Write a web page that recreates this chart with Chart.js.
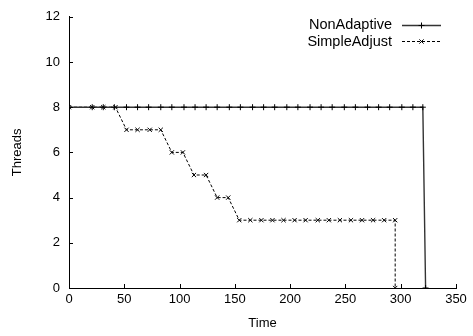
<!DOCTYPE html>
<html><head><meta charset="utf-8">
<script src="https://cdn.jsdelivr.net/npm/chart.js@4"></script>
<style>html,body{margin:0;padding:0;background:#fff}#wrap{width:473px;height:336px}</style>
</head><body><div id="wrap"><canvas id="c" width="473" height="336"></canvas></div>
<script>
const seriesNames = ['NonAdaptive', 'SimpleAdjust'];
const nonAdaptiveTime = [0, 21, 31, 41, 52, 62, 72, 83, 93, 104, 114, 124, 134, 145, 155, 166, 176, 186, 197, 207, 218, 228, 238, 249, 259, 270, 280, 290, 301, 311, 320, 322.5];
const nonAdaptiveThreads = [8, 8, 8, 8, 8, 8, 8, 8, 8, 8, 8, 8, 8, 8, 8, 8, 8, 8, 8, 8, 8, 8, 8, 8, 8, 8, 8, 8, 8, 8, 8, 0];
const simpleAdjustTime = [0, 21, 31, 42, 52, 62, 73, 83, 93, 103, 113, 124, 134, 144, 154, 164, 174, 184, 194, 204, 214, 225, 235, 245, 255, 265, 275, 285, 295, 295];
const simpleAdjustThreads = [8, 8, 8, 8, 7, 7, 7, 7, 6, 6, 5, 5, 4, 4, 3, 3, 3, 3, 3, 3, 3, 3, 3, 3, 3, 3, 3, 3, 3, 0];
const xTickValues = [0, 50, 100, 150, 200, 250, 300, 350];
const yTickValues = [0, 2, 4, 6, 8, 10, 12];
const xTitle = 'Time';
const yTitle = 'Threads';

const FONT = 'Liberation Sans, Arial, Helvetica, sans-serif';
const toPts = (xs, ys) => xs.map((x, i) => ({x: x, y: ys[i]}));

const styles = [
  {borderColor: '#333', borderWidth: 1.4, borderDash: [], pointStyle: 'cross', pointRadius: 3},
  {borderColor: '#000', borderWidth: 1, borderDash: [3, 2], pointStyle: 'crossRot', pointRadius: 3}
];

const tickAndLegend = {
  id: 'tickAndLegend',
  afterDraw(chart) {
    const ctx = chart.ctx;
    const xs = chart.scales.x, ys = chart.scales.y;
    const area = chart.chartArea;
    ctx.save();
    ctx.strokeStyle = '#000';
    ctx.lineWidth = 1;
    ctx.beginPath();
    xTickValues.forEach(v => {
      const px = Math.round(xs.getPixelForValue(v)) + 0.5;
      ctx.moveTo(px, area.bottom);
      ctx.lineTo(px, area.bottom - 4);
    });
    yTickValues.forEach(v => {
      const py = Math.round(ys.getPixelForValue(v)) + 0.5;
      ctx.moveTo(area.left, py);
      ctx.lineTo(area.left + 4, py);
    });
    ctx.stroke();
    // legend
    ctx.font = '14.5px ' + FONT;
    ctx.fillStyle = '#000';
    ctx.textAlign = 'right';
    ctx.textBaseline = 'middle';
    const rows = [24.5, 41];
    seriesNames.forEach((name, i) => {
      const y = rows[i];
      ctx.fillText(name, 392, y + 0.5);
      const st = styles[i];
      ctx.strokeStyle = st.borderColor;
      ctx.lineWidth = st.borderWidth;
      ctx.setLineDash(st.borderDash);
      ctx.beginPath();
      ctx.moveTo(402, Math.round(y) + 0.5);
      ctx.lineTo(441, Math.round(y) + 0.5);
      ctx.stroke();
      ctx.setLineDash([]);
      ctx.strokeStyle = '#000';
      ctx.lineWidth = 1;
      const cx = 421.5, cy = Math.round(y) + 0.5, r = 3;
      ctx.beginPath();
      if (st.pointStyle === 'cross') {
        ctx.moveTo(cx - r, cy); ctx.lineTo(cx + r, cy);
        ctx.moveTo(cx, cy - r); ctx.lineTo(cx, cy + r);
      } else {
        const d = r * 0.7071;
        ctx.moveTo(cx - d, cy - d); ctx.lineTo(cx + d, cy + d);
        ctx.moveTo(cx - d, cy + d); ctx.lineTo(cx + d, cy - d);
      }
      ctx.stroke();
    });
    ctx.restore();
  }
};

new Chart(document.getElementById('c'), {
  type: 'scatter',
  data: {
    datasets: [
      Object.assign({label: seriesNames[0], data: toPts(nonAdaptiveTime, nonAdaptiveThreads), showLine: true, pointBorderColor: '#000', pointBorderWidth: 1, backgroundColor: '#000', pointHoverRadius: 3}, styles[0]),
      Object.assign({label: seriesNames[1], data: toPts(simpleAdjustTime, simpleAdjustThreads), showLine: true, pointBorderColor: '#000', pointBorderWidth: 1, backgroundColor: '#000', pointHoverRadius: 3}, styles[1])
    ]
  },
  options: {
    responsive: false,
    devicePixelRatio: 1,
    animation: false,
    layout: {padding: {top: 14, right: 17, left: 0, bottom: 0}},
    plugins: {legend: {display: false}, tooltip: {enabled: false}},
    scales: {
      x: {
        type: 'linear', min: 0, max: 350,
        afterBuildTicks: s => { s.ticks = xTickValues.map(v => ({value: v})); },
        afterFit: s => { s.height = 48; },
        ticks: {color: '#000', font: {family: FONT, size: 13}, padding: 4, maxRotation: 0},
        grid: {drawOnChartArea: false, drawTicks: false},
        border: {color: '#000', width: 1},
        title: {display: true, text: xTitle, color: '#000', font: {family: FONT, size: 13}, padding: {top: 0, bottom: 5}}
      },
      y: {
        type: 'linear', min: 0, max: 12,
        afterBuildTicks: s => { s.ticks = yTickValues.map(v => ({value: v})); },
        afterFit: s => { s.width = 69; },
        ticks: {color: '#000', font: {family: FONT, size: 13}, padding: 9},
        grid: {drawOnChartArea: false, drawTicks: false},
        border: {color: '#000', width: 1},
        title: {display: true, text: yTitle, color: '#000', font: {family: FONT, size: 13}, padding: {top: 10, bottom: 0}}
      }
    }
  },
  plugins: [tickAndLegend]
});
</script>
</body></html>
